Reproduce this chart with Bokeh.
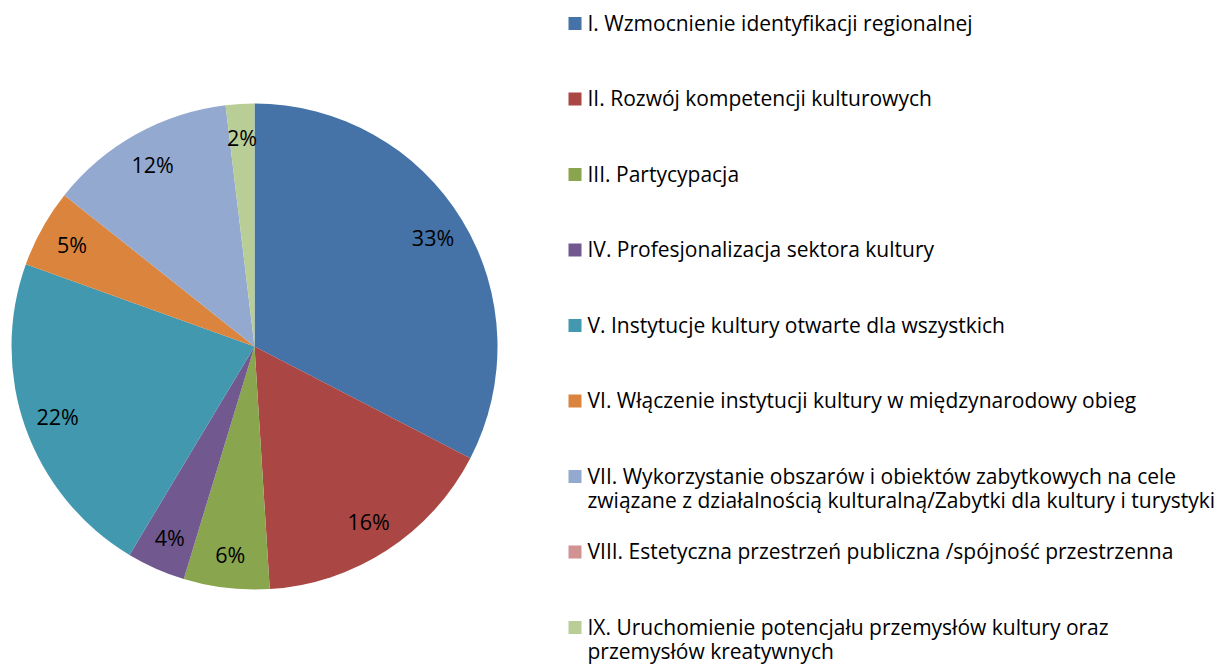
import math
from bokeh.plotting import figure
from bokeh.models import Range1d, ColumnDataSource
from bokeh.core.properties import value
from bokeh.embed import file_html
from bokeh.resources import INLINE

categories = [
    "I. Wzmocnienie identyfikacji regionalnej",
    "II. Rozwój kompetencji kulturowych",
    "III. Partycypacja",
    "IV. Profesjonalizacja sektora kultury",
    "V. Instytucje kultury otwarte dla wszystkich",
    "VI. Włączenie instytucji kultury w międzynarodowy obieg",
    "VII. Wykorzystanie obszarów i obiektów zabytkowych na cele\nzwiązane z działalnością kulturalną/Zabytki dla kultury i turystyki",
    "VIII. Estetyczna przestrzeń publiczna /spójność przestrzenna",
    "IX. Uruchomienie potencjału przemysłów kultury oraz\nprzemysłów kreatywnych",
]
shares = [32.6, 16.4, 5.7, 3.9, 21.9, 5.2, 12.4, 0.0, 1.9]
colors = ["#4572A7", "#AA4643", "#89A54E", "#71588F", "#4198AF",
          "#DB843D", "#93A9CF", "#D19392", "#B9CD96"]

W, H = 1219, 664
p = figure(width=W, height=H, output_backend="svg", toolbar_location=None,
           x_range=Range1d(0, W), y_range=Range1d(0, H), min_border=0)
p.axis.visible = False
p.grid.visible = False
p.outline_line_color = None

cx, cy, R = 254, 318, 243
total = sum(shares)
starts, ends, cols, lx, ly, labels = [], [], [], [], [], []
acc = 0.0
for s, c in zip(shares, colors):
    a0 = math.pi / 2 - 2 * math.pi * acc / total
    a1 = math.pi / 2 - 2 * math.pi * (acc + s) / total
    acc += s
    if s <= 0:
        continue
    starts.append(a0)
    ends.append(a1)
    cols.append(c)
    mid = (a0 + a1) / 2
    lx.append(cx + 0.86 * R * math.cos(mid))
    ly.append(cy + 0.86 * R * math.sin(mid))
    labels.append(f"{round(s)}%")

src = ColumnDataSource(dict(start=starts, end=ends, color=cols))
p.wedge(x=cx, y=cy, radius=R, start_angle="start", end_angle="end",
        direction="clock", fill_color="color", line_color=None, source=src)

p.text(x=lx, y=ly, text=labels, text_align="center", text_baseline="middle",
       text_font=value("Open Sans"), text_font_size="21.5px", text_color="#000000")

# legend
step = 75.5
ys = [H - 23 - step * i for i in range(len(categories))]
sq_x = 574.5
p.rect(x=[sq_x] * len(categories), y=ys, width=13, height=13,
       fill_color=colors, line_color=None)
p.text(x=[sq_x + 12.5] * len(categories), y=[y + 15 for y in ys], text=categories,
       text_align="left", text_baseline="top", text_font=value("Open Sans"),
       text_font_size="21px", text_color="#000000", text_line_height=0.86)

open("out.html", "w").write(file_html(p, INLINE))
